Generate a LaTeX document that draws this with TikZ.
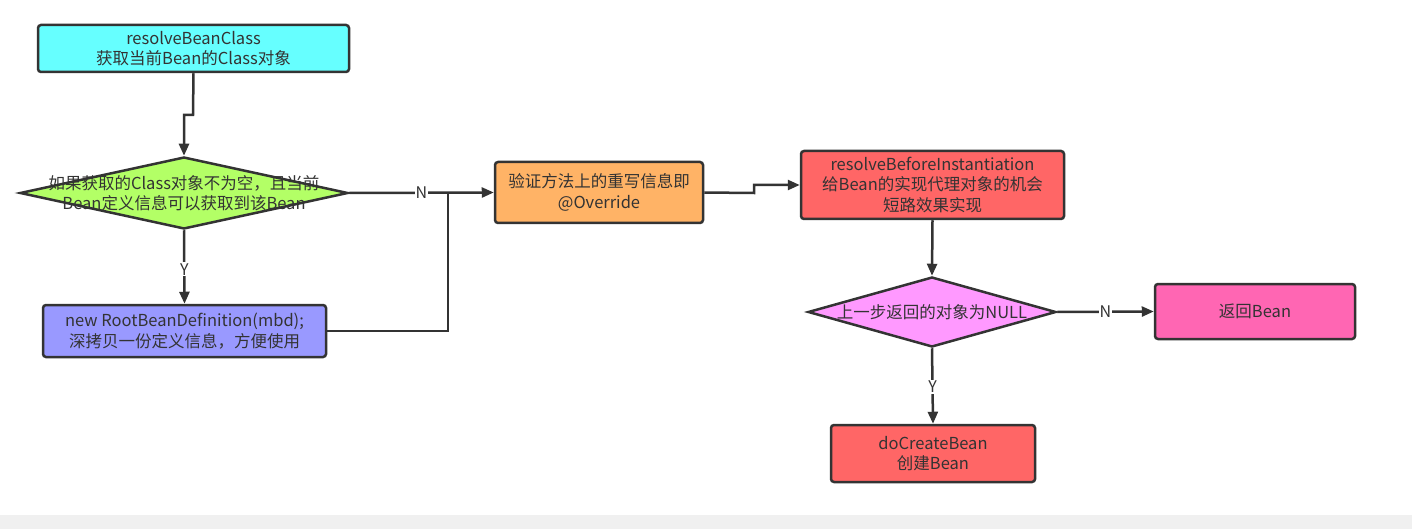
\documentclass[tikz,border=0pt]{standalone}
\usepackage{fontspec}
\setmainfont{Noto Sans CJK SC}
\usetikzlibrary{arrows.meta,shapes.geometric}
\definecolor{ln}{HTML}{333333}
\definecolor{cyanc}{HTML}{66FFFF}
\definecolor{greenc}{HTML}{B3FF66}
\definecolor{bluec}{HTML}{9999FF}
\definecolor{orangec}{HTML}{FFB366}
\definecolor{redc}{HTML}{FF6666}
\definecolor{violetc}{HTML}{FF99FF}
\definecolor{pinkc}{HTML}{FF66B3}
\definecolor{barc}{HTML}{F0F0F0}
\tikzset{
  box/.style={draw=ln, line width=2.5pt, rounded corners=3pt, inner sep=0pt, align=center, text=ln, font=\fontsize{16.5}{20.5}\selectfont},
  dia/.style={draw=ln, line width=2.5pt, diamond, inner sep=0pt},
  dtext/.style={align=center, text=ln, font=\fontsize{16.5}{20.5}\selectfont},
  arr/.style={draw=ln, line width=2.5pt, -{Triangle[length=12pt,width=10pt]}},
  conn/.style={draw=ln, line width=2.5pt},
  lbl/.style={fill=white, inner sep=1pt, text=ln, font=\fontsize{16}{18}\selectfont}
}
\begin{document}
\begin{tikzpicture}[x=1pt,y=-1pt]
\useasboundingbox (0,0) rectangle (1412,529);
\fill[barc] (0,515) rectangle (1412,529);

\node[box, fill=cyanc, minimum width=311pt, minimum height=47pt] (b1) at (193.5,48.5) {resolveBeanClass\\获取当前Bean的Class对象};
\node[dia, fill=greenc, minimum width=328pt, minimum height=72pt] (d1) at (184,193) {};
\node[dtext] (t1) at (184,193) {如果获取的Class对象不为空，且当前\\Bean定义信息可以获取到该Bean};
\node[box, fill=bluec, minimum width=283pt, minimum height=52pt] (b2) at (184.5,331) {new RootBeanDefinition(mbd);\\深拷贝一份定义信息，方便使用};
\node[box, fill=orangec, minimum width=208pt, minimum height=61pt] (b3) at (599,192.5) {验证方法上的重写信息即\\@Override};
\node[box, fill=redc, minimum width=263pt, minimum height=68pt] (b4) at (932.5,185) {resolveBeforeInstantiation\\给Bean的实现代理对象的机会\\短路效果实现};
\node[dia, fill=violetc, minimum width=248pt, minimum height=70pt] (d2) at (932,312) {};
\node[dtext] (t2) at (932,312) {上一步返回的对象为NULL};
\node[box, fill=pinkc, minimum width=200pt, minimum height=55pt] (b5) at (1255,311.5) {返回Bean};
\node[box, fill=redc, minimum width=204pt, minimum height=57pt] (b6) at (933,453.5) {doCreateBean\\创建Bean};

\coordinate (j1) at (193,115);
\coordinate (j2) at (754,193);
\coordinate (j3) at (448,193);

\draw[arr] (b1.south) -- (j1) -| (d1.north);
\draw[arr] (d1.east) -- node[lbl] {N} (b3.west);
\draw[arr] (d1.south) -- node[lbl, pos=0.53] {Y} (b2.north);
\draw[conn] (b2.east) -| (j3);
\draw[arr] (b3.east) -- (j2) |- (b4.west);
\draw[arr] (b4.south) -- (d2.north);
\draw[arr] (d2.east) -- node[lbl] {N} (b5.west);
\draw[arr] (d2.south) -- node[lbl, pos=0.51] {Y} (b6.north);
\end{tikzpicture}
\end{document}
